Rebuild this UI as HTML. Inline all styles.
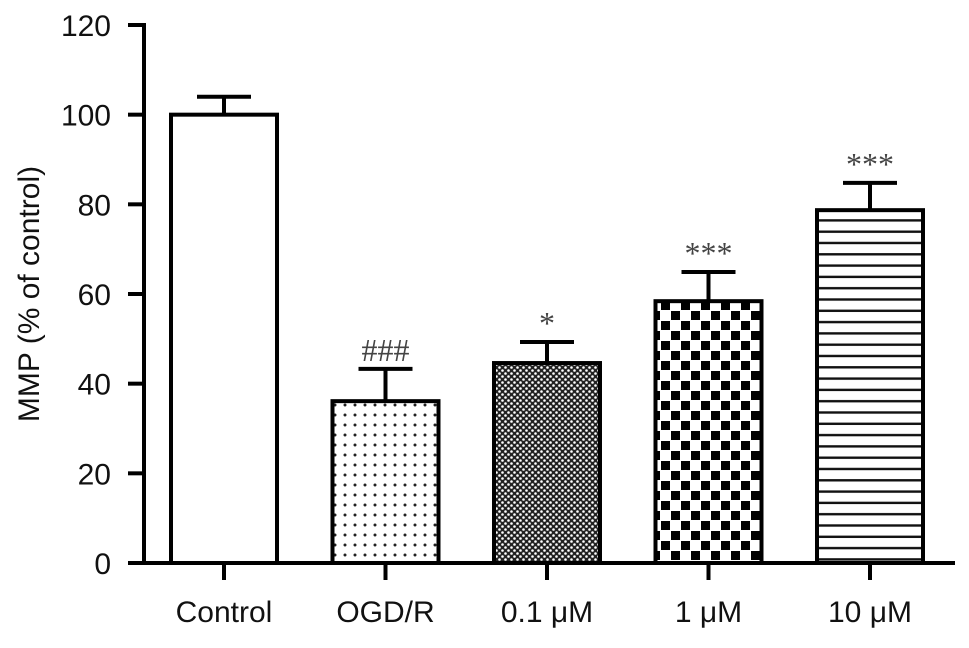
<!DOCTYPE html>
<html><head><meta charset="utf-8"><style>
html,body{margin:0;padding:0;background:#fff;}
svg{display:block;font-family:"Liberation Sans",Arial,sans-serif;}
</style></head><body>
<svg id="chart" width="969" height="648" viewBox="0 0 969 648" xmlns="http://www.w3.org/2000/svg">
<defs>
<pattern id="p-dots" patternUnits="userSpaceOnUse" width="10" height="10"><rect width="10" height="10" fill="#fff"/><circle cx="5" cy="5" r="1.5" fill="#222"/></pattern>
<pattern id="p-fine" patternUnits="userSpaceOnUse" width="6" height="6"><rect width="6" height="6" fill="#222"/><circle cx="1.5" cy="1.5" r="1.3" fill="#fff"/><circle cx="4.5" cy="4.5" r="1.3" fill="#fff"/></pattern>
<pattern id="p-check" patternUnits="userSpaceOnUse" width="20" height="20"><rect width="20" height="20" fill="#fff"/><rect x="1" y="1" width="9" height="9" fill="#000"/><rect x="11" y="11" width="9" height="9" fill="#000"/></pattern>
<pattern id="p-lines" patternUnits="userSpaceOnUse" width="10" height="11.3"><rect width="10" height="11.3" fill="#fff"/><rect y="4.5" width="10" height="2.4" fill="#111"/></pattern>
</defs>
<g id="bars"></g>
<g id="axes"></g>
<text transform="translate(39,294) rotate(-90)" text-anchor="middle" font-size="30" fill="#111">MMP (% of control)</text>
</svg>
<script>
const categories = ["Control","OGD/R","0.1 μM","1 μM","10 μM"];
const values = [100, 36.1, 44.6, 58.4, 78.7];
const errors = [4, 7.2, 4.7, 6.5, 6.1];
const marks = ["", "###", "*", "***", "***"];
const yTicks = [0,20,40,60,80,100,120];
const fills = ["#fff","url(#p-dots)","url(#p-fine)","url(#p-check)","url(#p-lines)"];

const NS="http://www.w3.org/2000/svg";
const y0=563, yTop=25, yMax=120;
const yScale=v=>y0-(y0-yTop)*v/yMax;
const xCenter=i=>224+i*161.5;
const bw=106;
function mk(tag,attrs,parent){const e=document.createElementNS(NS,tag);for(const k in attrs)e.setAttribute(k,attrs[k]);parent.appendChild(e);return e;}
const bars=document.getElementById('bars'), axes=document.getElementById('axes');

categories.forEach((c,i)=>{
  const cx=xCenter(i), top=yScale(values[i]), cap=yScale(values[i]+errors[i]);
  const eb=mk('line',{x1:cx,x2:cx,y1:top,y2:cap,stroke:'#000','stroke-width':4},bars);
  
  
  const ec=mk('line',{x1:cx-27,x2:cx+27,y1:cap,y2:cap,stroke:'#000','stroke-width':4},bars);
  
  
  const r=mk('rect',{x:cx-bw/2,y:top,width:bw,height:y0-top,fill:fills[i],stroke:'#000','stroke-width':4},bars);
  
  
  if(marks[i]){
    const t=mk('text',{x:cx,y:cap-8,'text-anchor':'middle','font-size':'32','fill':'#444','font-family':'"Liberation Serif",serif'},bars);
    t.textContent=marks[i];
    
    
  }
  const tk=mk('line',{x1:cx,x2:cx,y1:y0,y2:y0+17,stroke:'#000','stroke-width':4},axes);
  
  
  const l=mk('text',{x:cx,y:622,'text-anchor':'middle','font-size':'30',fill:'#111'},axes);
  l.textContent=c;
  
  
});
const ya=mk('line',{x1:144,x2:144,y1:yTop-2,y2:y0+2,stroke:'#000','stroke-width':4},axes);


const xa=mk('line',{x1:142,x2:955,y1:y0,y2:y0,stroke:'#000','stroke-width':4},axes);


yTicks.forEach(v=>{
  const y=yScale(v);
  const t=mk('line',{x1:128,x2:144,y1:y,y2:y,stroke:'#000','stroke-width':4},axes);
  
  
  const l=mk('text',{x:111,y:y+11,'text-anchor':'end','font-size':'30',fill:'#111'},axes);
  l.textContent=v;
  
  
});
</script>
</body></html>
